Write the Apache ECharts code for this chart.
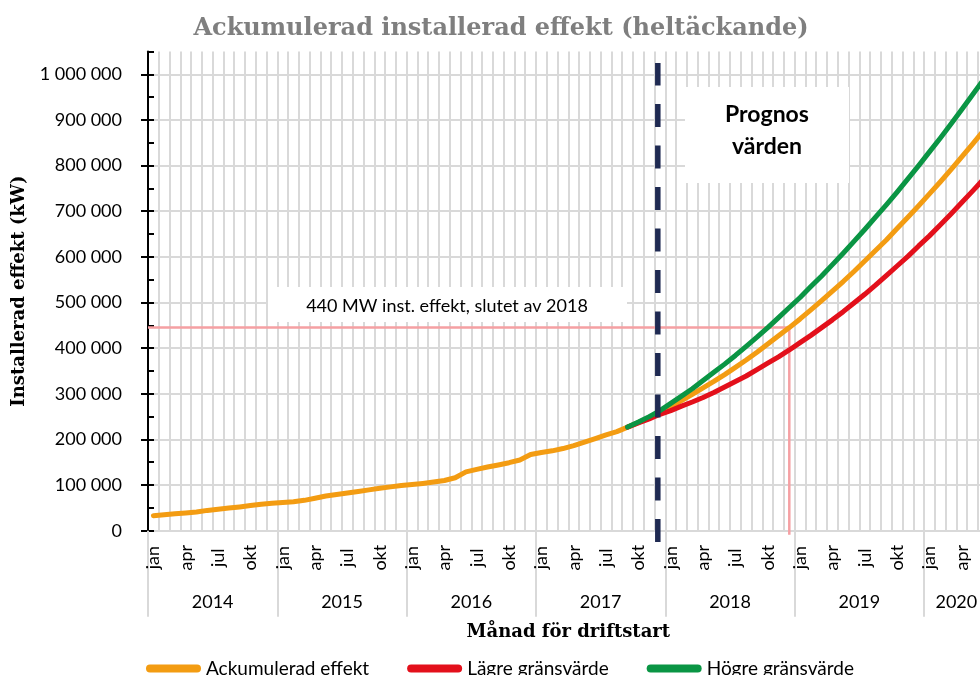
<!DOCTYPE html>
<html><head><meta charset="utf-8">
<script src="https://cdn.jsdelivr.net/npm/echarts@6/dist/echarts.min.js"></script>
<style>html,body{margin:0;padding:0;background:#fff}#c{width:980px;height:675px}</style>
</head><body><div id="c"></div>
<script>
// ---- data ----
const years = ['2014', '2015', '2016', '2017', '2018', '2019', '2020'];
const monthNames = ['jan', 'feb', 'mar', 'apr', 'maj', 'jun', 'jul', 'aug', 'sep', 'okt', 'nov', 'dec'];
const monthCount = 78; // jan 2014 .. jun 2020

const ackumulerad = [
  33000, 35000, 37000, 39000, 41000, 44500, 47000, 49500, 52000, 55000, 58000, 60000,
  62000, 63500, 66500, 71000, 76000, 79500, 82500, 86000, 89500, 93000, 96000, 99000,
  101000, 103500, 106500, 110000, 116000, 129000, 134500, 139500, 144000, 149000, 155000, 167000,
  171500, 175000, 180000, 186500, 194000, 202000, 210000, 217000, 227000, 237000, 248000, 260000,
  272000, 285000, 299000, 313000, 327000, 342000, 358000, 374000, 391000, 409000, 427000, 445000,
  464000, 484000, 504000, 525000, 546000, 568000, 591000, 614000, 637000, 662000, 687000, 712000,
  738000, 764000, 791000, 819000, 847000, 876000
];
const lagreValues = [
  227000, 236000, 245000, 255000, 263000, 273000, 282000, 292000, 303000, 315000, 327000, 339000,
  353000, 367000, 381000, 396000, 412000, 428000, 445000, 462000, 480000, 499000, 518000, 538000,
  559000, 580000, 601000, 624000, 646000, 670000, 694000, 719000, 744000, 770000
];
const hogreValues = [
  227000, 238000, 250000, 263000, 279000, 295000, 311000, 329000, 347000, 365000, 384000, 404000,
  424000, 445000, 467000, 489000, 511000, 535000, 558000, 583000, 608000, 634000, 660000, 687000,
  714000, 742000, 771000, 800000, 830000, 860000, 891000, 923000, 955000, 988000
];
const forecastStartMonth = 'sep 2017';
const annotationMonth = 'dec 2018';
const annotationText = '440 MW inst. effekt, slutet av 2018';
const prognosBoundary = 47.3; // months after start of jan 2014
const seriesNames = ['Ackumulerad effekt', 'Lägre gränsvärde', 'Högre gränsvärde'];

// ---- build ----
const categories = [];
years.forEach(y => monthNames.forEach(m => categories.push(m + ' ' + y)));
categories.length = monthCount;
const fStart = categories.indexOf(forecastStartMonth);
const pad = n => new Array(n).fill(null);
const lagre = pad(fStart).concat(lagreValues);
const hogre = pad(fStart).concat(hogreValues);
const annIdx = categories.indexOf(annotationMonth);
const annLevel = ackumulerad[annIdx];
const annX = annIdx + 0.5;
const pinkData = [[0, annLevel], [annX, annLevel], [annX, -9000]];
const dashData = [[prognosBoundary, -25000], [prognosBoundary, 1025000]];

function yearLabelAt(v) {
  for (let k = 0; k < years.length; k++) {
    const s = 12 * k, e = Math.min(12 * k + 12, monthCount);
    if (s < e && (s + e) / 2 === v) return years[k];
  }
  return '';
}
const fmt = v => String(v).replace(/\B(?=(\d{3})+(?!\d))/g, ' ');

const SANS = 'Lato, "Open Sans", sans-serif';
const SERIF = '"DejaVu Serif", "Liberation Serif", serif';
const GRID = '#D9D9D9';
const ORANGE = '#F39C12', RED = '#E3101B', GREEN = '#0A9544', NAVY = '#1F2A52', PINK = '#F5A0A3';

const chart = echarts.init(document.getElementById('c'), null, {renderer: 'canvas'});
chart.setOption({
  animation: false,
  backgroundColor: '#fff',
  title: {
    text: 'Ackumulerad installerad effekt (heltäckande)',
    left: 496, top: 12, textAlign: 'center',
    textStyle: {fontFamily: SERIF, fontWeight: 'bold', fontSize: 24, color: '#7F7F7F'}
  },
  grid: {left: 148, top: 51.5, width: 840.7, height: 479.2, containLabel: false, outerBoundsMode: 'none'},
  legend: {
    data: seriesNames, left: 141, top: 654, itemWidth: 55, itemHeight: 8, itemGap: 38,
    icon: 'path://M4,0 L51,0 A4,4 0 0 1 51,8 L4,8 A4,4 0 0 1 4,0 Z',
    textStyle: {fontSize: 19, fontFamily: '"Liberation Sans Narrow", ' + SANS, color: '#000'}
  },
  xAxis: [{
    type: 'category', data: categories, boundaryGap: true, position: 'bottom',
    axisLine: {show: true, lineStyle: {color: GRID, width: 2}},
    axisTick: {show: true, interval: (i) => i % 12 === 0, length: 86, lineStyle: {color: GRID, width: 2}},
    axisLabel: {
      interval: (i) => i % 3 === 0, rotate: 90, formatter: v => v.split(' ')[0],
      align: 'center', verticalAlign: 'middle', margin: 27,
      fontSize: 18, fontFamily: SANS, color: '#000'
    },
    splitLine: {show: true, interval: 0, lineStyle: {color: GRID, width: 2}},
    name: 'Månad för driftstart', nameLocation: 'middle', nameGap: 102,
    nameTextStyle: {fontFamily: SERIF, fontWeight: 'bold', fontSize: 18, color: '#000', verticalAlign: 'middle'}
  }, {
    type: 'value', min: 0, max: monthCount, interval: 3, position: 'bottom',
    axisLine: {show: false}, axisTick: {show: false}, splitLine: {show: false},
    axisLabel: {formatter: v => yearLabelAt(v), margin: 71, verticalAlign: 'middle',
      fontSize: 18, fontFamily: SANS, color: '#000'}
  }],
  yAxis: [{
    type: 'value', min: 0, max: 1050000, interval: 100000, position: 'left',
    axisLine: {show: true, lineStyle: {color: '#000', width: 2}},
    axisTick: {show: true, length: 7, lineStyle: {color: '#000', width: 2}},
    axisLabel: {formatter: fmt, showMaxLabel: false, margin: 26, fontSize: 18, fontFamily: SANS, color: '#000'},
    splitLine: {show: true, showMaxLine: false, lineStyle: {color: GRID, width: 2}},
    name: 'Installerad effekt (kW)', nameLocation: 'middle', nameGap: 128, nameRotate: 90,
    nameTextStyle: {fontFamily: SERIF, fontWeight: 'bold', fontSize: 18, color: '#000', verticalAlign: 'middle'}
  }, {
    type: 'value', min: 0, max: 1050000, interval: 50000, position: 'left',
    axisLine: {show: false},
    axisTick: {show: true, inside: true, length: 6, lineStyle: {color: '#000', width: 2}},
    axisLabel: {show: false}, splitLine: {show: false}
  }],
  graphic: [
    {type: 'rect', shape: {x: 268, y: 287, width: 359, height: 35}, style: {fill: '#fff'}, z: 10},
    {type: 'text', x: 447, y: 306, z: 11, style: {text: annotationText, fontSize: 18, fontFamily: SANS,
      fill: '#000', align: 'center', verticalAlign: 'middle'}},
    {type: 'rect', shape: {x: 685, y: 87, width: 164, height: 96}, style: {fill: '#fff'}, z: 10},
    {type: 'text', x: 767, y: 131, z: 11, style: {text: 'Prognos\nvärden', fontSize: 23, fontWeight: 'bold',
      lineHeight: 32, fontFamily: SANS, fill: '#000', align: 'center', verticalAlign: 'middle'}}
  ],
  series: [
    {type: 'line', name: 'ann', xAxisIndex: 1, yAxisIndex: 0, data: pinkData, symbol: 'none', clip: false,
      silent: true, lineStyle: {color: PINK, width: 2.5}},
    {type: 'line', name: seriesNames[0], data: ackumulerad, symbol: 'none',
      lineStyle: {color: ORANGE, width: 5, cap: 'round', join: 'round'}, itemStyle: {color: ORANGE}},
    {type: 'line', name: seriesNames[1], data: lagre, symbol: 'none',
      lineStyle: {color: RED, width: 5, cap: 'round', join: 'round'}, itemStyle: {color: RED}},
    {type: 'line', name: seriesNames[2], data: hogre, symbol: 'none',
      lineStyle: {color: GREEN, width: 5, cap: 'round', join: 'round'}, itemStyle: {color: GREEN}},
    {type: 'line', name: 'prognos', xAxisIndex: 1, yAxisIndex: 0, data: dashData, symbol: 'none', clip: false,
      silent: true, lineStyle: {color: NAVY, width: 5.5, type: [23, 18.5]}}
  ]
});
</script></body></html>
